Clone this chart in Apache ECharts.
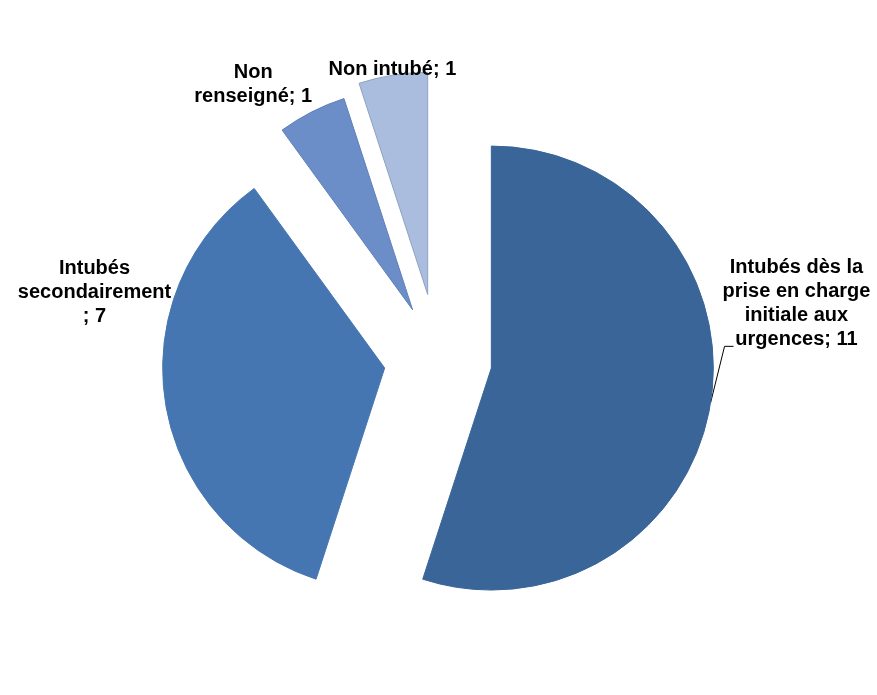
<!DOCTYPE html>
<html><head><meta charset="utf-8">
<script src="https://cdn.jsdelivr.net/npm/echarts@6/dist/echarts.min.js"></script>
<style>html,body{margin:0;padding:0;background:#fff}#c{width:877px;height:695px}</style>
</head><body><div id="c"></div>
<script>
// ---- data ----
const categories = ['Intubés dès la prise en charge initiale aux urgences', 'Intubés secondairement', 'Non renseigné', 'Non intubé'];
const values = [11, 7, 1, 1];
const labelNames = ['Intubés dès la\nprise en charge\ninitiale aux\nurgences', 'Intubés\nsecondairement\n', 'Non\nrenseigné', 'Non intubé'];
const separator = '; ';

// ---- styles ----
const colors = ['#3A6598', '#4676B2', '#6B8DC8', '#AABDDF'];
const borders = ['#3A6598', '#4676B2', '#5F80B8', '#8FA2C2'];
const offsets = [54, 54, 56, 66];
// label shifts relative to ECharts' default outside label anchor
const labelShift = [[61, -101], [-46, -112], [-39, -19], [16, 4]];

const chart = echarts.init(document.getElementById('c'), null, {renderer: 'canvas'});

const series = categories.map((_, k) => ({
  type: 'pie',
  center: [438, 359.6],
  radius: 222,
  startAngle: 90,
  clockwise: true,
  selectedMode: 'multiple',
  selectedOffset: offsets[k],
  animation: false,
  avoidLabelOverlap: false,
  emphasis: {disabled: true},
  data: categories.map((name, i) => ({
    name: name,
    value: values[i],
    selected: i === k,
    itemStyle: i === k
      ? {color: colors[i], borderColor: borders[i], borderWidth: 1}
      : {color: 'rgba(0,0,0,0)', borderWidth: 0},
    label: {show: i === k},
    labelLine: {show: i === k && k === 0}
  })),
  label: {
    position: 'outside',
    formatter: p => labelNames[p.dataIndex] + separator + p.value,
    fontFamily: 'Liberation Sans, Arial, sans-serif',
    fontWeight: 'bold',
    fontSize: 20,
    lineHeight: 24,
    color: '#000',
    align: 'center'
  },
  labelLine: {length: 10, length2: 10, lineStyle: {color: '#000', width: 1}},
  labelLayout: function (params) {
    const out = {dx: labelShift[k][0], dy: labelShift[k][1], align: 'center'};
    const pts = params.labelLinePoints;
    const r = params.labelRect;
    if (k === 0 && pts && pts.length && r) {
      const left = r.x + labelShift[k][0] - r.width / 2;
      const bottom = r.y + labelShift[k][1] + r.height;
      out.labelLinePoints = [pts[0], [left + 2, bottom - 5], [left + 11, bottom - 5]];
    }
    return out;
  }
}));

chart.setOption({
  backgroundColor: '#fff',
  animation: false,
  series: series
});
</script>
</body></html>
